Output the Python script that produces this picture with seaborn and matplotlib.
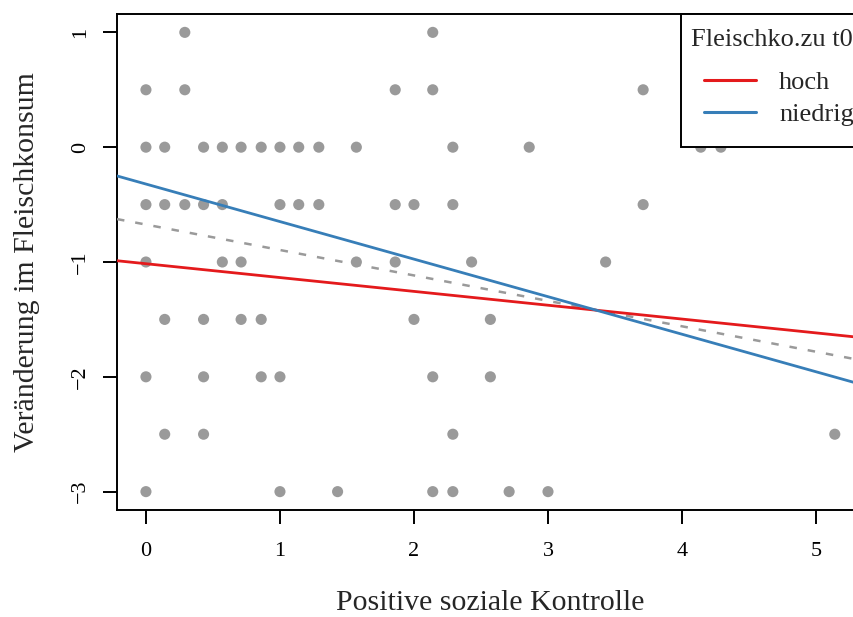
import pandas as pd
import seaborn as sns
import matplotlib.pyplot as plt
from matplotlib.lines import Line2D
from matplotlib.patches import Rectangle
from matplotlib.legend_handler import HandlerLine2D

# Beobachtungen: Positive soziale Kontrolle (x) vs. Veränderung im Fleischkonsum (y)
kontrolle = [
    0.29, 2.14,
    0.0, 0.29, 1.86, 2.14, 3.71,
    0.0, 0.14, 0.43, 0.57, 0.71, 0.86, 1.0, 1.14, 1.29, 1.57, 2.29, 2.86, 4.14, 4.29,
    0.0, 0.14, 0.29, 0.43, 0.57, 1.0, 1.14, 1.29, 1.86, 2.0, 2.29, 3.71,
    0.0, 0.57, 0.71, 1.57, 1.86, 2.43, 3.43,
    0.14, 0.43, 0.71, 0.86, 2.0, 2.57,
    0.0, 0.43, 0.86, 1.0, 2.14, 2.57,
    0.14, 0.43, 2.29, 5.14,
    0.0, 1.0, 1.43, 2.14, 2.29, 2.71, 3.0,
]
veraenderung = (
    [1.0] * 2 + [0.5] * 5 + [0.0] * 14 + [-0.5] * 12 + [-1.0] * 7
    + [-1.5] * 6 + [-2.0] * 6 + [-2.5] * 4 + [-3.0] * 7
)

# Regressionsgeraden (Achsenabschnitt, Steigung)
gruppen = ["hoch", "niedrig"]
gruppen_farben = ["#E41A1C", "#377EB8"]
intercepts = [-1.015, -0.321]
slopes = [-0.1205, -0.327]
gesamt_intercept = -0.674
gesamt_slope = -0.2215

XLIM = (-0.216, 5.358)
YLIM = (-3.16, 1.16)

sns.set_style("ticks")
plt.rcParams["font.family"] = ["Liberation Serif", "DejaVu Serif"]

df = pd.DataFrame({"x": kontrolle, "y": veraenderung})

rows = []
for g, b, m in zip(gruppen, intercepts, slopes):
    for xv in XLIM:
        rows.append({"x": xv, "y": b + m * xv, "gruppe": g})
df_lines = pd.DataFrame(rows)
df_gesamt = pd.DataFrame({"x": list(XLIM),
                          "y": [gesamt_intercept + gesamt_slope * xv for xv in XLIM]})

fig = plt.figure(figsize=(8.54, 6.17), dpi=100)
ax = fig.add_axes([117 / 854, 107 / 617, 747 / 854, 496 / 617])

sns.scatterplot(data=df, x="x", y="y", color="#9a9a9a", s=64, edgecolor="none",
                ax=ax, zorder=2)
sns.lineplot(data=df_gesamt, x="x", y="y", color="#9a9a9a", linewidth=1.8,
             linestyle=(0, (3, 4.4)), ax=ax, zorder=3, errorbar=None)
sns.lineplot(data=df_lines, x="x", y="y", hue="gruppe",
             palette=dict(zip(gruppen, gruppen_farben)), linewidth=2.0,
             ax=ax, zorder=4, legend=False, errorbar=None)

ax.set_xlim(XLIM)
ax.set_ylim(YLIM)
ax.set_xticks([0, 1, 2, 3, 4, 5])
ax.set_yticks([-3, -2, -1, 0, 1])
ax.set_xlabel("Positive soziale Kontrolle", fontsize=21.5, labelpad=21)
ax.set_ylabel("Veränderung im Fleischkonsum", fontsize=21.5, labelpad=22)

for sp in ax.spines.values():
    sp.set_visible(True)
    sp.set_color("black")
    sp.set_linewidth(1.4)
ax.tick_params(axis="both", direction="out", length=10, width=1.4,
               color="black", labelsize=16, labelcolor="black")
ax.tick_params(axis="x", pad=13)
ax.tick_params(axis="y", pad=9.5)
for lab in ax.get_yticklabels():
    lab.set_rotation(90)
    lab.set_va("center")

handles = [Line2D([], [], color=c, linewidth=2.2) for c in gruppen_farben]
leg = ax.legend(handles, gruppen, title="Fleischko.zu t0", loc="upper right",
                bbox_to_anchor=(1, 0.99), borderaxespad=0, frameon=False,
                fontsize=19, title_fontsize=19, alignment="left",
                handlelength=2.46, handletextpad=0.87, labelspacing=0.33,
                borderpad=0.38,
                handler_map={Line2D: HandlerLine2D(xpad=0.49)})
leg.set_zorder(6)
# mehr Abstand zwischen Titel und Einträgen
leg._legend_box.sep = 13.9

# Legendenrahmen wie in R: bis an den oberen Rand, unten etwas mehr Platz
fig.canvas.draw()
bb = leg.get_window_extent(fig.canvas.get_renderer())
(x0, y0), (x1, y1) = ax.transAxes.inverted().transform([[bb.x0, bb.y0 - 11], [bb.x1, bb.y1]])
ax.add_patch(Rectangle((x0, y0), 1 - x0, 1 - y0, transform=ax.transAxes,
                       facecolor="white", edgecolor="black", linewidth=1.4,
                       zorder=5, clip_on=False))

fig.savefig("out.png", dpi=100)
